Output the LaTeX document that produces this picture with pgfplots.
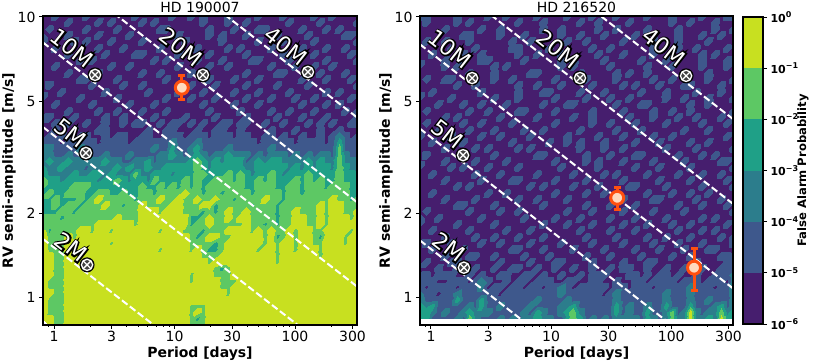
\documentclass[border=0pt]{standalone}
\usepackage{fontspec}
\setmainfont{DejaVu Sans}
\newfontface\haloface[FakeBold=12]{DejaVu Sans}
\usepackage{pgfplots}
\usepackage{pgfplotstable}
\pgfplotsset{compat=1.18}
\definecolor{f0}{RGB}{70,30,110}
\definecolor{f1}{RGB}{62,88,140}
\definecolor{f2}{RGB}{44,125,140}
\definecolor{f3}{RGB}{31,160,135}
\definecolor{f4}{RGB}{93,200,100}
\definecolor{f5}{RGB}{200,224,32}
\definecolor{porange}{RGB}{255,80,15}
\definecolor{ppeach}{RGB}{255,218,190}
\pgfplotsset{colormap={fap}{color(0)=(f0) color(1)=(f1) color(2)=(f2) color(3)=(f3) color(4)=(f4) color(5)=(f5) color(6)=(f5)}}
% false alarm probability bands, digit d = 10^(d-6)..10^(d-5); rows from RV=10 down to 0.8, columns from P=0.81 to 327
\def\gridL{%
0 0 1 0 0 0 0 1 0 0  0 0 0 0 0 1 0 0 0 0  0 1 0 0 1 0 1 0 0 0  1 0 0 0 0 1 0 0 0 1  0 0 0 0 1 0 0 1 0 0  0 0
0 0 0 0 1 0 0 0 0 1  0 1 0 0 0 0 1 0 1 0  0 0 0 0 0 0 1 0 0 0  1 0 0 1 0 0 0 0 0 0  1 0 0 0 0 1 0 0 0 0  0 1
0 1 0 0 0 0 0 1 0 0  0 0 1 0 0 0 0 0 0 1  1 0 0 0 0 0 0 1 0 0  0 1 0 0 0 1 1 0 0 0  0 0 1 0 0 0 1 0 1 0  0 0
0 0 0 0 1 0 0 0 0 1  0 0 0 0 1 0 0 0 0 0  0 0 1 0 0 0 0 1 0 1  0 0 0 1 0 0 0 0 1 0  0 0 0 1 0 0 0 0 0 1  1 0
1 0 0 0 0 1 0 1 0 0  0 1 0 0 0 0 1 0 0 0  0 0 0 1 0 0 0 0 0 1  0 0 0 0 0 1 0 0 0 1  0 0 0 0 1 0 0 0 0 0  0 1
0 0 1 0 0 0 0 0 0 1  0 0 0 1 0 0 0 0 0 1  0 0 0 0 0 1 0 0 0 0  1 0 1 0 0 0 0 1 0 0  0 0 1 0 0 0 1 0 0 1  0 0
0 0 0 0 1 0 0 0 0 0  1 0 0 0 0 1 1 0 0 0  0 0 1 0 0 0 0 1 0 0  0 0 0 1 0 0 0 0 0 1  0 0 0 0 1 0 0 0 0 0  1 0
0 0 0 0 0 0 1 0 1 0  0 0 0 0 0 0 0 0 1 0  1 0 0 0 0 1 0 0 0 1  0 0 0 0 1 1 0 0 0 0  1 0 0 0 0 0 1 0 0 0  0 1
0 0 1 0 0 0 0 0 0 0  0 1 0 0 1 0 0 0 0 0  0 0 1 0 0 0 0 1 0 0  1 0 0 0 0 0 0 1 0 0  0 1 0 0 1 0 0 1 0 0  0 0
0 0 0 0 1 0 0 0 0 1  0 0 0 0 0 0 1 0 0 1  0 0 0 0 1 0 0 0 0 0  0 0 0 1 0 0 0 0 1 1  0 0 0 0 0 1 0 0 0 1  0 0
0 0 0 0 0 0 1 1 0 0  0 0 1 0 0 0 0 0 0 0  1 0 0 0 0 0 0 1 0 0  0 1 0 0 0 1 0 0 0 0  0 0 1 0 0 0 1 0 0 0  1 0
0 1 0 0 0 0 0 0 1 0  0 0 0 1 0 0 1 0 0 0  0 0 0 0 1 0 0 0 1 0  0 0 0 1 0 0 0 0 1 0  0 0 0 1 0 0 0 0 0 0  0 1
0 0 0 1 0 0 0 0 0 0  1 0 0 0 0 0 0 1 0 0  0 0 1 0 0 0 1 0 0 0  0 1 0 0 0 1 0 0 0 0  1 0 0 0 0 0 1 0 1 0  0 0
1 0 0 0 0 0 1 0 0 0  0 0 1 0 0 0 0 0 0 0  1 0 0 0 1 0 0 0 1 0  0 0 0 1 0 0 0 1 0 0  0 1 0 0 1 0 0 0 0 0  1 0
0 0 1 0 0 0 0 0 1 0  0 0 0 0 1 0 0 0 1 0  0 0 0 0 0 0 1 0 0 0  0 1 0 0 0 1 0 0 0 0  0 0 1 0 0 0 1 0 1 0  0 0
0 0 0 0 1 0 0 0 0 1  0 0 1 0 0 0 1 0 0 0  1 0 0 0 0 0 0 1 0 0  0 0 1 0 0 0 0 1 0 0  1 0 0 0 1 0 0 0 0 1  0 1
0 1 0 0 0 1 0 0 0 0  1 0 0 1 0 0 0 0 1 0  0 0 0 1 0 0 0 0 1 0  0 0 0 1 0 0 0 0 1 0  0 0 1 0 0 0 1 0 0 0  0 1
1 0 1 0 1 0 0 1 0 0  1 0 0 1 0 1 1 0 0 1  0 1 1 0 1 0 1 0 0 1  1 0 1 1 0 0 1 0 0 1  0 0 0 1 0 1 0 1 0 0  1 1
0 0 1 0 0 1 0 0 0 1  1 0 0 0 0 0 0 1 0 0  1 1 0 0 0 1 0 0 1 1  0 0 1 0 0 0 0 1 0 0  0 1 0 0 0 1 0 0 1 0  0 0
0 1 0 1 0 0 1 1 0 0  1 0 1 1 0 0 1 1 0 0  1 1 1 0 1 1 1 0 1 1  1 0 1 1 0 0 1 1 0 1  0 0 1 0 0 1 0 1 2 1  0 1
1 1 1 0 1 1 1 1 1 0  1 1 1 1 0 1 1 1 1 1  1 2 1 1 1 2 1 1 1 1  1 1 1 1 1 0 1 1 1 1  1 0 1 1 1 1 0 1 3 1  1 1
1 2 1 1 1 1 2 1 1 1  1 1 1 1 1 1 1 1 2 1  1 3 1 1 2 3 1 1 1 1  2 1 1 1 1 1 1 2 1 1  1 1 1 1 1 1 1 1 4 1  1 1
2 2 1 1 2 1 1 2 1 1  2 1 1 1 2 1 1 1 1 2  2 3 2 1 2 3 2 1 2 2  3 2 2 2 1 2 1 2 2 2  1 2 1 2 1 2 2 1 4 2  1 1
2 3 2 2 3 2 2 2 2 2  3 2 2 1 1 2 2 3 1 2  2 2 2 2 3 4 3 2 3 2  3 3 3 1 2 3 2 3 3 2  2 2 2 3 2 3 2 2 4 2  2 1
2 2 2 3 2 2 2 1 2 2  2 2 3 2 3 2 2 3 2 2  3 3 3 3 3 4 3 2 3 3  3 3 3 2 2 3 3 3 3 3  2 3 2 3 2 3 3 2 4 3  2 2
3 2 2 2 2 3 2 2 3 3  2 3 2 2 2 4 2 2 3 3  3 2 3 3 3 4 4 3 3 3  4 3 4 3 2 3 3 4 3 2  3 3 3 4 3 3 3 3 4 3  3 2
4 3 3 2 3 3 3 3 3 2  3 3 4 3 2 3 3 2 4 3  3 3 3 4 3 4 3 3 4 4  4 3 4 3 3 4 3 4 3 3  3 4 3 4 3 4 3 3 4 3  3 2
4 3 3 3 3 4 4 4 3 3  3 3 3 3 3 3 4 3 3 4  3 4 3 4 3 4 3 4 4 4  4 4 4 3 3 4 4 4 3 3  4 4 3 4 4 4 3 4 4 4  3 3
3 4 3 3 4 4 4 3 3 4  4 3 3 4 3 3 4 4 3 4  4 4 4 5 4 4 3 4 4 3  4 4 4 4 3 4 4 4 4 3  4 4 3 4 4 4 4 4 4 4  3 3
4 3 4 3 3 3 4 3 4 5  4 4 4 4 4 3 4 4 4 5  4 4 5 4 4 5 4 4 5 4  4 3 4 4 4 4 5 4 4 3  4 4 4 4 4 4 4 5 4 4  3 4
3 3 4 3 4 4 3 4 4 4  5 4 4 3 4 4 5 4 4 4  4 5 5 4 4 4 5 5 3 4  4 4 4 4 3 4 4 4 3 4  4 4 4 4 4 5 4 5 5 4  4 4
3 3 3 4 4 3 4 4 4 4  4 4 4 4 4 4 5 5 5 4  5 5 5 4 4 4 3 4 3 4  5 4 4 5 4 4 4 4 3 4  4 5 4 4 4 5 4 5 5 4  4 5
3 4 4 3 4 4 4 4 4 4  4 4 5 4 4 4 5 5 5 5  5 5 5 5 3 3 4 5 4 4  5 4 5 5 4 4 4 4 3 4  4 5 5 4 4 5 4 5 5 5  4 5
4 4 4 4 4 4 4 4 4 5  5 5 5 5 5 4 5 5 5 5  5 5 5 5 3 4 4 5 4 4  4 4 4 5 4 4 3 4 3 4  4 5 5 4 4 5 4 5 5 5  5 5
4 3 4 4 4 4 5 5 4 5  5 4 5 5 5 5 5 5 5 4  5 5 5 4 4 4 3 4 4 4  5 5 5 5 4 5 4 5 4 4  5 4 5 5 4 4 5 5 5 5  4 5
5 4 4 4 5 4 5 5 5 5  5 5 5 5 5 5 5 5 5 5  5 5 5 5 4 3 4 5 5 4  4 5 5 5 5 5 4 5 3 4  5 4 5 5 4 3 5 5 5 4  5 5
5 4 4 4 5 5 5 5 5 5  5 4 5 5 5 5 5 5 5 5  5 5 5 5 4 4 4 4 3 4  5 5 5 5 5 5 4 5 4 5  5 4 5 5 4 4 5 5 5 4  5 5
5 4 4 4 5 5 5 5 5 5  5 5 5 5 5 5 5 5 5 4  5 5 5 5 4 5 4 3 3 4  5 5 5 5 5 4 5 5 4 5  5 4 5 5 5 4 5 5 5 5  5 5
5 5 4 4 5 5 5 5 5 5  5 5 5 5 5 5 5 5 5 5  5 5 5 5 5 5 4 4 4 5  5 5 5 5 5 5 5 5 4 5  5 5 5 5 5 4 5 5 5 5  5 5
5 5 4 4 5 5 5 5 5 5  5 5 5 5 5 5 5 5 5 5  5 5 5 5 5 5 5 4 5 5  5 5 5 5 5 5 5 5 4 5  5 5 5 5 5 5 5 5 5 5  5 5
5 5 4 4 5 5 5 5 5 5  5 5 5 5 5 5 5 5 5 5  5 5 5 5 5 5 5 5 4 3  4 5 5 5 5 5 5 5 5 5  5 5 5 5 5 5 5 5 5 5  5 5
5 5 4 4 5 5 5 5 5 5  5 5 5 5 5 5 5 5 5 5  5 5 5 5 4 5 5 5 4 4  4 5 5 5 5 5 5 5 5 5  5 5 5 5 5 5 5 5 5 5  5 5
5 4 4 4 5 5 5 5 5 5  5 5 5 5 5 5 5 5 5 5  5 5 5 5 4 5 5 5 5 4  4 4 5 5 5 5 5 5 5 5  5 5 5 5 5 5 5 5 5 5  5 5
5 4 4 4 5 5 5 5 5 5  5 5 5 5 5 5 5 5 5 5  5 5 5 5 5 5 5 5 5 4  4 5 5 5 5 5 5 5 5 5  5 5 5 5 5 5 5 5 5 5  5 5
5 5 4 4 5 5 5 5 5 5  5 5 5 5 5 5 5 5 5 5  5 5 5 5 5 5 5 5 5 5  4 5 5 5 5 5 5 5 5 5  5 5 5 5 5 5 5 5 5 5  5 5
5 4 4 4 5 5 5 5 5 5  5 5 5 5 5 5 5 5 5 5  5 5 5 5 5 5 5 5 5 5  5 5 5 5 5 5 5 5 5 5  5 5 5 5 5 5 5 5 5 5  5 5
5 4 4 4 5 5 5 5 5 5  5 5 5 5 5 5 5 5 5 5  5 5 5 5 4 4 4 5 5 5  5 5 5 5 5 5 5 5 5 5  5 5 5 5 5 5 5 5 5 5  5 5
5 4 4 4 5 5 5 5 5 5  5 5 5 5 5 5 5 5 5 5  5 5 5 5 4 5 4 5 5 5  5 5 5 5 5 5 5 5 5 5  5 5 5 5 5 5 5 5 5 5  5 5
5 5 4 4 5 5 5 5 5 5  5 5 5 5 5 5 5 5 5 5  5 5 5 5 4 3 4 5 5 5  5 5 5 5 5 5 5 5 5 5  5 5 5 5 5 5 5 5 5 5  5 5
5 5 4 4 5 5 5 5 5 5  5 5 5 5 5 5 5 5 5 5  5 5 5 5 4 4 4 5 5 5  5 5 5 5 5 5 5 5 5 5  5 5 5 5 5 5 5 5 5 5  5 5
\relax}
\def\gridR{%
1 1 0 0 0 0 1 0 0 0  0 1 0 0 1 0 0 0 0 1  0 0 0 0 1 0 0 0 1 0  0 0 1 0 0 0 0 1 0 0  0 1 0 0 0 0 1 0 0 0  1 1
0 1 0 0 0 0 1 0 1 0  0 0 0 0 0 0 1 0 0 0  1 0 0 0 0 0 1 0 0 1  0 0 0 0 1 0 0 0 0 0  0 1 0 0 1 0 0 0 1 0  0 0
0 0 0 0 1 0 0 0 0 0  1 0 0 1 0 0 0 0 0 0  1 0 0 1 0 0 0 0 0 1  0 0 1 0 0 0 0 1 0 0  0 0 1 0 0 0 0 0 1 0  0 1
0 0 0 0 0 0 0 1 1 0  0 0 0 1 0 0 0 1 0 0  0 0 0 1 0 0 1 0 0 0  1 0 0 0 0 1 0 0 0 0  0 0 1 0 0 0 1 0 0 1  0 0
0 1 0 0 1 0 0 0 1 0  0 0 0 0 0 1 0 0 1 0  0 0 0 0 1 0 0 1 0 0  0 0 0 1 0 0 0 0 1 0  0 0 1 0 0 0 0 1 0 0  0 0
0 0 0 0 0 1 0 0 0 1  0 0 0 0 0 1 1 0 0 0  0 1 0 0 0 0 0 0 1 0  0 1 0 0 0 0 0 0 1 0  0 0 1 0 0 1 0 0 0 0  1 0
0 0 1 0 0 0 0 1 0 0  1 0 0 0 0 0 1 0 0 1  0 0 0 1 0 0 0 0 0 1  0 0 0 1 0 0 0 0 1 0  0 0 0 0 0 0 1 0 1 0  0 0
0 0 0 0 1 0 0 0 0 0  1 1 0 0 0 0 0 1 0 0  0 0 0 1 0 1 0 0 0 0  1 0 0 0 0 0 1 0 0 0  1 0 0 0 0 0 1 0 0 0  1 0
1 0 0 0 1 0 1 0 0 0  0 0 1 0 1 0 0 0 0 0  0 0 0 1 0 1 0 0 0 0  0 1 0 0 0 0 0 1 0 0  0 1 0 0 0 0 1 0 0 0  1 0
0 0 0 0 0 0 0 0 1 0  0 0 1 0 0 0 0 0 1 1  0 0 0 0 0 0 1 0 0 0  0 0 1 0 1 0 0 1 0 0  0 0 0 1 0 0 0 1 0 0  0 0
0 1 0 0 1 1 0 0 0 0  0 0 1 0 0 1 0 0 0 0  0 0 1 0 0 0 0 1 0 0  0 0 1 0 0 0 0 0 1 0  0 1 0 0 0 0 0 1 0 0  0 1
0 0 0 0 0 0 1 0 0 1  0 0 0 0 0 0 1 0 0 1  0 0 0 1 0 0 0 0 1 0  0 0 0 1 0 1 0 0 0 1  0 0 0 1 1 0 0 0 0 1  0 0
0 0 1 0 0 0 0 0 0 0  1 0 0 0 0 0 1 0 0 0  1 1 0 0 0 0 1 0 0 0  1 0 0 0 0 0 1 0 0 0  1 0 0 0 0 1 0 0 0 1  0 0
1 0 0 0 0 1 0 0 0 0  0 0 1 0 0 0 1 0 0 0  0 0 1 0 0 0 0 1 0 0  0 1 0 0 1 0 0 0 0 0  1 0 0 1 0 0 0 1 0 0  0 1
0 0 0 1 0 0 0 1 0 0  1 0 0 0 1 0 0 0 0 0  1 0 0 0 1 1 0 0 0 0  0 0 1 0 0 0 1 1 0 0  0 0 0 0 1 0 0 1 0 0  0 0
0 1 0 0 0 0 0 0 1 0  0 1 0 0 0 0 1 1 0 0  0 0 1 0 0 0 0 0 1 0  0 0 0 1 0 0 0 0 1 0  0 1 0 0 1 0 0 0 0 0  0 1
0 0 0 0 1 0 1 0 0 0  0 0 0 1 0 0 0 0 0 1  0 0 0 0 0 1 0 0 1 0  0 0 0 0 1 0 0 0 1 0  0 0 1 0 0 1 0 0 0 1  0 0
0 1 0 0 0 0 0 1 0 0  1 0 0 0 0 1 0 0 0 0  0 0 1 0 0 0 0 0 1 0  0 1 0 0 0 1 0 0 0 0  1 0 0 0 0 0 1 0 0 0  1 0
0 0 0 1 0 0 0 0 1 0  0 0 1 0 0 0 0 1 0 0  1 0 0 0 0 0 1 0 0 0  0 0 1 0 0 0 1 0 0 0  0 0 0 1 0 0 0 1 0 0  0 0
1 0 0 0 0 1 0 0 0 0  1 0 0 1 0 0 0 0 1 0  0 0 0 0 1 0 0 0 0 1  0 0 0 1 0 0 0 0 1 0  0 1 0 0 0 0 0 0 0 0  1 0
0 0 1 0 0 0 0 1 0 0  0 0 0 0 0 1 0 0 0 0  0 1 0 0 1 0 1 0 0 0  1 0 0 0 0 1 0 0 0 1  0 0 0 0 1 0 0 1 0 0  0 0
0 0 0 0 1 0 0 0 0 1  0 1 0 0 0 0 1 0 1 0  0 0 0 0 0 0 1 0 0 0  1 0 0 1 0 0 0 0 0 0  1 0 0 0 0 1 0 0 0 0  0 1
0 1 0 0 0 0 0 1 0 0  0 0 1 0 0 0 0 0 0 1  1 0 0 0 0 0 0 1 0 0  0 1 0 0 0 1 1 0 0 0  0 0 1 0 0 0 1 0 1 0  0 0
0 0 0 0 1 0 0 0 0 1  0 0 0 0 1 0 0 0 0 0  0 0 1 0 0 0 0 1 0 1  0 0 0 1 0 0 0 0 1 0  0 0 0 1 0 0 0 0 0 1  1 0
1 0 0 0 0 1 0 1 0 0  0 1 0 0 0 0 1 0 0 0  0 0 0 1 0 0 0 0 0 1  0 0 0 0 0 1 0 0 0 1  0 0 0 0 1 0 0 0 0 0  0 1
0 0 1 0 0 0 0 0 0 1  0 0 0 1 0 0 0 0 0 1  0 0 0 0 0 1 0 0 0 0  1 0 1 0 0 0 0 1 0 0  0 0 1 0 0 0 1 0 0 1  0 0
0 0 0 0 1 0 0 0 0 0  1 0 0 0 0 1 1 0 0 0  0 0 1 0 0 0 0 1 0 0  0 0 0 1 0 0 0 0 0 1  0 0 0 0 1 0 0 0 0 0  1 0
0 0 0 0 0 0 1 0 1 0  0 0 0 0 0 0 0 0 1 0  1 0 0 0 0 1 0 0 0 1  0 0 0 0 1 1 0 0 0 0  1 0 0 0 0 0 1 0 0 0  0 1
0 0 1 0 0 0 0 0 0 0  0 1 0 0 1 0 0 0 0 0  0 0 1 0 0 0 0 1 0 0  1 0 0 0 0 0 0 1 0 0  0 1 0 0 1 0 0 1 0 0  0 0
0 0 0 0 1 0 0 0 0 1  0 0 0 0 0 0 1 0 0 1  0 0 0 0 1 0 0 0 0 0  0 0 0 1 0 0 0 0 1 1  0 0 0 0 0 1 0 0 0 1  0 0
0 0 0 0 0 0 1 1 0 0  0 0 1 0 0 0 0 0 0 0  1 0 0 0 0 0 0 1 0 0  0 1 0 0 0 1 0 0 0 0  0 0 1 0 0 0 1 0 0 0  1 0
0 1 0 0 0 0 0 0 1 0  0 0 0 1 0 0 1 0 0 0  0 0 0 0 1 0 0 0 1 0  0 0 0 1 0 0 0 0 1 0  0 0 0 1 0 0 0 0 0 0  0 1
0 0 0 1 0 0 0 0 0 0  1 0 0 0 0 0 0 1 0 0  0 0 1 0 0 0 1 0 0 0  0 1 0 0 0 1 0 0 0 0  1 0 0 0 0 0 1 0 1 0  0 0
1 0 0 0 0 0 1 0 0 0  0 0 1 0 0 0 0 0 0 0  1 0 0 0 1 0 0 0 1 0  0 0 0 1 0 0 0 1 0 0  0 1 0 0 1 0 0 0 0 0  1 0
0 0 1 0 0 0 0 0 1 0  0 0 0 0 1 0 0 0 1 0  0 0 0 0 0 0 1 0 0 0  0 1 0 0 0 1 0 0 0 0  0 0 1 0 0 0 1 0 1 0  0 0
0 0 0 0 1 0 0 0 0 1  0 0 1 0 0 0 1 0 0 0  1 0 0 0 0 0 0 1 0 0  0 0 1 0 0 0 0 1 0 0  1 0 0 0 1 0 0 0 0 1  0 1
0 1 0 0 0 1 0 0 0 0  1 0 0 1 0 0 0 0 1 0  0 0 0 1 0 0 0 0 1 0  0 0 0 1 0 0 0 0 1 0  0 0 1 0 0 0 1 0 0 0  0 1
0 0 1 0 0 0 0 1 0 0  0 0 0 0 0 1 1 0 0 0  1 0 0 0 0 1 0 0 0 0  1 0 0 0 0 1 0 0 0 1  0 0 0 1 0 0 0 1 1 0  0 0
0 0 0 0 1 0 0 0 1 1  0 0 1 0 0 0 0 1 0 0  0 1 0 0 0 0 0 1 0 0  0 1 0 0 0 0 1 0 0 0  0 1 0 0 1 0 0 0 0 1  1 0
0 1 0 0 0 1 1 0 0 0  0 0 0 1 0 0 0 0 1 0  0 0 1 1 0 0 0 0 1 0  0 0 0 1 0 0 0 1 1 0  0 0 0 0 0 1 0 0 0 0  1 1
1 0 0 1 0 0 1 1 0 1  0 0 1 0 0 1 1 0 0 1  0 0 1 0 0 1 0 0 1 0  0 1 0 1 1 0 0 1 0 0  1 0 0 1 0 0 1 0 0 1  1 1
0 1 0 1 1 1 0 0 1 0  1 0 0 1 1 0 0 1 1 0  1 0 0 1 0 0 1 0 1 1  1 0 0 0 1 1 0 1 0 1  1 0 1 0 0 1 0 0 1 1  1 2
1 1 1 0 0 1 1 1 0 1  2 1 0 0 1 0 1 1 0 1  1 1 0 0 1 1 0 0 1 1  0 0 1 0 0 1 1 0 1 1  1 1 0 1 1 1 0 1 1 1  0 2
1 0 1 1 1 1 0 1 1 1  2 0 1 1 0 1 1 0 1 1  0 1 1 2 1 0 1 1 1 1  1 0 1 1 0 1 1 1 0 1  1 1 1 1 2 1 1 1 0 1  1 2
1 1 1 0 1 1 2 1 1 1  1 1 1 0 1 1 1 1 1 1  1 1 1 2 1 1 1 1 1 1  0 1 2 1 1 1 1 1 1 1  2 1 1 1 2 1 1 1 1 1  1 2
2 1 1 1 1 1 3 1 1 1  3 1 1 1 1 1 1 1 1 2  1 1 1 1 2 1 1 1 1 1  1 1 2 1 1 1 1 1 1 1  2 1 1 1 2 1 1 2 1 1  1 2
2 2 3 1 1 1 1 1 2 1  3 1 1 2 1 1 1 1 2 1  1 1 1 2 2 3 1 1 1 1  1 1 3 1 2 1 1 2 1 1  3 1 1 1 3 1 1 1 2 3  1 2
3 3 2 1 2 1 1 2 3 2  2 2 1 1 1 1 1 2 1 3  2 1 1 2 3 4 2 1 1 1  1 1 3 1 2 1 1 3 1 1  2 4 1 2 5 2 1 2 2 4  2 3
3 3 1 1 1 1 2 1 4 2  1 1 1 2 1 2 1 2 2 3  2 2 1 1 3 4 3 1 2 1  2 1 2 2 2 2 1 3 2 1  2 4 2 2 5 2 2 3 2 5  3 3
\relax}
\newtoks\flattoks
\def\flateat#1 {\ifx\relax#1\else\flattoks=\expandafter{\the\flattoks #1\\}\expandafter\flateat\fi}
\def\readgrid#1#2{\flattoks={}\expandafter\flateat#1 \edef\tmpread{\noexpand\pgfplotstableread[row sep=crcr,header=false]{\the\flattoks}\noexpand#2}\tmpread}
\readgrid\gridL\tabL
\readgrid\gridR\tabR
\newcommand{\cb}[1]{10\raisebox{0.42em}{\fontsize{8bp}{8bp}\selectfont −#1}}
\newcommand{\cbz}{10\raisebox{0.42em}{\fontsize{8bp}{8bp}\selectfont 0}}
\pgfplotsset{
  rvpanel/.style={
    scale only axis, height=309bp,
    xmin=0.81, xmax=327, ymin=0.8, ymax=10.08,
    xtick={1,3,10,30,100,300}, xticklabels={1,3,10,30,100,300},
    minor xtick={0.9,2,4,5,6,7,8,9,20,40,50,60,70,80,90,200},
    ytick={1,2,5,10}, yticklabels={1,2,5,10}, yminorticks=false,
    tick align=outside, major tick length=4bp, minor tick length=2bp,
    tick style={black,line width=1bp}, minor tick style={black,line width=0.6bp},
    xtick pos=bottom, ytick pos=left,
    axis line style={line width=2bp}, axis on top,
    tick label style={font=\fontsize{14bp}{16bp}\selectfont},
    xticklabel style={yshift=1bp},
    title style={font=\fontsize{14bp}{16bp}\selectfont, yshift=-6.5bp},
    xlabel={\bfseries Period [days]}, ylabel={\bfseries RV semi-amplitude [m/s]},
    xlabel style={font=\fontsize{14bp}{16bp}\selectfont, yshift=2bp},
    ylabel style={font=\fontsize{14bp}{16bp}\selectfont, yshift=-5bp},
  },
  heat/.style={surf, shader=interp, colormap name=fap, colormap access=piecewise constant,
    mesh/cols=52, point meta=explicit, point meta min=-0.7, point meta max=5.3},
  massline/.style={white, line width=2bp, dash pattern=on 7bp off 3bp, no markers},
}
\newcommand{\earthmarks}[1]{%
  \addplot[only marks, mark=*, mark size=7bp, mark options={fill=black!75, draw=black, line width=1bp}] coordinates {#1};
  \addplot[only marks, mark=o, mark size=5.6bp, mark options={draw=white, line width=1.2bp}] coordinates {#1};
  \addplot[only marks, mark=x, mark size=5.6bp, mark options={draw=white, line width=1.3bp}] coordinates {#1};
}
\newcommand{\planet}[3]{% P, Kup/Klow, K
  \addplot[porange, line width=3bp, mark=-, mark size=3.5bp, mark options={solid,line width=3bp}] coordinates {#2};
  \addplot[only marks, mark=*, mark size=6.5bp, mark options={fill=ppeach, draw=porange, line width=3bp}] coordinates {(#1,#3)};
}
\newcommand{\massnode}[3]{% x px, y px, text
  \node[black,rotate=-38,font=\fontsize{22bp}{24bp}\haloface] at (#1bp,364bp-#2bp) {#3};
  \node[white,rotate=-38,font=\fontsize{22bp}{24bp}\selectfont] at (#1bp,364bp-#2bp) {#3};
}
\begin{document}
\begin{tikzpicture}
\path[use as bounding box] (0bp,0bp) rectangle (814bp,364bp);
\begin{loglogaxis}[rvpanel, at={(43bp,39bp)}, anchor=south west, width=314bp, title={HD 190007}]
\addplot[heat] table[x index=0, y index=0, x expr={10^(-0.0915+mod(\coordindex,52)*0.0511)}, y expr={10^(1.0035-floor(\coordindex/52)*0.022457)}, meta index=0] {\tabL};
\addplot[massline] coordinates {(0.81,1.62)(327,0.219)};
\addplot[massline] coordinates {(0.81,4.055)(327,0.5485)};
\addplot[massline] coordinates {(0.81,8.11)(327,1.097)};
\addplot[massline] coordinates {(0.81,16.2)(327,2.19)};
\addplot[massline] coordinates {(0.81,32.4)(327,4.39)};
\earthmarks{(2.19,6.22)(17.2,6.22)(128,6.37)(1.84,3.28)(1.88,1.31)}
\planet{11.5}{(11.5,6.2)(11.5,5.07)}{5.6}
\end{loglogaxis}
\begin{loglogaxis}[rvpanel, at={(420bp,39bp)}, anchor=south west, width=313bp, title={HD 216520}]
\addplot[heat] table[x index=0, y index=0, x expr={10^(-0.0915+mod(\coordindex,52)*0.0511)}, y expr={10^(1.0035-floor(\coordindex/52)*0.022457)}, meta index=0] {\tabR};
\addplot[massline] coordinates {(0.81,1.6)(327,0.216)};
\addplot[massline] coordinates {(0.81,4)(327,0.54)};
\addplot[massline] coordinates {(0.81,7.99)(327,1.08)};
\addplot[massline] coordinates {(0.81,16)(327,2.16)};
\addplot[massline] coordinates {(0.81,32)(327,4.33)};
\earthmarks{(2.2,6.06)(17.4,6.06)(133,6.17)(1.85,3.22)(1.88,1.28)}
\planet{35.5}{(35.5,2.48)(35.5,2.06)}{2.27}
\planet{155}{(155,1.5)(155,1.06)}{1.28}
\end{loglogaxis}
\begin{semilogyaxis}[scale only axis, at={(743bp,40bp)}, anchor=south west, width=20bp, height=307bp,
  xmin=0, xmax=1, ymin=1e-6, ymax=1, xtick=\empty, axis on top,
  ytick={1e-6,1e-5,1e-4,1e-3,1e-2,1e-1,1}, yminorticks=false, ytick pos=right,
  yticklabels={\cb{6},\cb{5},\cb{4},\cb{3},\cb{2},\cb{1},\cbz},
  tick align=outside, major tick length=4bp, tick style={black,line width=1bp},
  axis line style={line width=2bp},
  tick label style={font=\fontsize{11bp}{13bp}\selectfont\bfseries},
  ylabel={\bfseries False Alarm Probability}, yticklabel pos=right,
  ylabel style={font=\fontsize{11.6bp}{13bp}\selectfont, at={(axis description cs:3.0,0.5)}, anchor=center},
]
\addplot[fill=f0,draw=none] coordinates {(0,1e-6)(1,1e-6)(1,1e-5)(0,1e-5)} -- cycle;
\addplot[fill=f1,draw=none] coordinates {(0,1e-5)(1,1e-5)(1,1e-4)(0,1e-4)} -- cycle;
\addplot[fill=f2,draw=none] coordinates {(0,1e-4)(1,1e-4)(1,1e-3)(0,1e-3)} -- cycle;
\addplot[fill=f3,draw=none] coordinates {(0,1e-3)(1,1e-3)(1,1e-2)(0,1e-2)} -- cycle;
\addplot[fill=f4,draw=none] coordinates {(0,1e-2)(1,1e-2)(1,1e-1)(0,1e-1)} -- cycle;
\addplot[fill=f5,draw=none] coordinates {(0,1e-1)(1,1e-1)(1,1)(0,1)} -- cycle;
\end{semilogyaxis}
\massnode{72}{48}{10M}
\massnode{181}{47}{20M}
\massnode{286}{46}{40M}
\massnode{70}{133}{5M}
\massnode{71}{247}{2M}
\massnode{450}{49}{10M}
\massnode{558}{49}{20M}
\massnode{664}{47}{40M}
\massnode{447}{134}{5M}
\massnode{449}{247}{2M}
\end{tikzpicture}
\end{document}
